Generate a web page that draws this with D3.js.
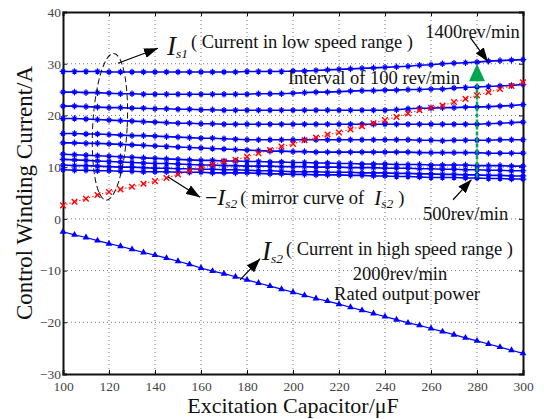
<!DOCTYPE html>
<html>
<head>
<meta charset="utf-8">
<script src="https://cdn.jsdelivr.net/npm/d3@7"></script>
<style>
  body { margin: 0; background: #fff; }
  text { font-family: "Liberation Serif", "Times New Roman", serif; }
</style>
</head>
<body>
<svg width="544" height="419"></svg>
<script>
// Excitation capacitor (uF)
var capacitor = [100, 105, 110, 115, 120, 125, 130, 135, 140, 145,
                 150, 155, 160, 165, 170, 175, 180, 185, 190, 195,
                 200, 205, 210, 215, 220, 225, 230, 235, 240, 245,
                 250, 255, 260, 265, 270, 275, 280, 285, 290, 295, 300];

// Is1, low speed range, one curve per speed (rev/min)
var speeds = [1400, 1300, 1200, 1100, 1000, 900, 800, 700, 600, 500];
var is1_1400 = [28.5, 28.5, 28.5, 28.5, 28.4, 28.4, 28.4, 28.4, 28.4, 28.4,
                28.4, 28.4, 28.4, 28.4, 28.4, 28.4, 28.5, 28.5, 28.5, 28.5,
                28.6, 28.6, 28.7, 28.8, 28.9, 29.0, 29.1, 29.2, 29.3, 29.4,
                29.5, 29.7, 29.8, 30.0, 30.1, 30.2, 30.3, 30.5, 30.6, 30.7, 30.8];
var is1_1300 = [24.5, 24.5, 24.4, 24.4, 24.3, 24.2, 24.2, 24.1, 24.1, 24.1,
                24.1, 24.1, 24.1, 24.1, 24.1, 24.1, 24.1, 24.2, 24.2, 24.2,
                24.3, 24.4, 24.5, 24.5, 24.6, 24.7, 24.8, 24.8, 24.9, 24.9,
                25.0, 25.0, 25.1, 25.1, 25.3, 25.4, 25.5, 25.6, 25.7, 25.8, 26.0];
var is1_1200 = [21.8, 21.8, 21.7, 21.6, 21.5, 21.5, 21.4, 21.4, 21.3, 21.3,
                21.2, 21.2, 21.1, 21.1, 21.0, 21.0, 21.0, 21.0, 21.0, 21.0,
                21.0, 21.0, 21.0, 21.0, 21.0, 21.0, 21.0, 21.0, 21.0, 21.1,
                21.3, 21.4, 21.4, 21.5, 21.5, 21.6, 21.6, 21.7, 21.8, 21.9, 22.1];
var is1_1100 = [19.4, 19.4, 19.3, 19.2, 19.1, 19.0, 18.9, 18.8, 18.7, 18.6,
                18.5, 18.5, 18.4, 18.4, 18.3, 18.3, 18.3, 18.3, 18.3, 18.3,
                18.3, 18.3, 18.3, 18.3, 18.3, 18.3, 18.3, 18.3, 18.3, 18.3,
                18.3, 18.3, 18.3, 18.3, 18.3, 18.3, 18.3, 18.4, 18.5, 18.6, 18.7];
var is1_1000 = [16.5, 16.5, 16.4, 16.4, 16.3, 16.2, 16.1, 16.1, 16.0, 15.9,
                15.8, 15.7, 15.6, 15.6, 15.5, 15.4, 15.3, 15.3, 15.3, 15.3,
                15.3, 15.3, 15.3, 15.3, 15.3, 15.3, 15.3, 15.3, 15.3, 15.3,
                15.3, 15.2, 15.2, 15.1, 15.2, 15.2, 15.2, 15.2, 15.3, 15.3, 15.3];
var is1_900 = [14.7, 14.7, 14.6, 14.6, 14.5, 14.4, 14.3, 14.2, 14.1, 14.0,
               13.9, 13.8, 13.7, 13.6, 13.5, 13.4, 13.3, 13.2, 13.1, 13.1,
               13.0, 13.0, 12.9, 12.9, 12.9, 12.9, 12.9, 12.9, 12.9, 12.9,
               12.9, 12.8, 12.8, 12.8, 12.8, 12.8, 12.8, 12.7, 12.7, 12.7, 12.7];
var is1_800 = [12.5, 12.4, 12.3, 12.2, 12.1, 12.0, 11.9, 11.8, 11.7, 11.6,
               11.5, 11.4, 11.3, 11.3, 11.2, 11.2, 11.1, 11.1, 11.0, 11.0,
               10.9, 10.9, 10.8, 10.8, 10.7, 10.7, 10.6, 10.6, 10.6, 10.5,
               10.5, 10.5, 10.4, 10.4, 10.4, 10.4, 10.3, 10.3, 10.3, 10.2, 10.2];
var is1_700 = [11.5, 11.4, 11.3, 11.2, 11.1, 11.0, 10.9, 10.8, 10.7, 10.7,
               10.6, 10.5, 10.4, 10.4, 10.3, 10.3, 10.2, 10.2, 10.2, 10.1,
               10.1, 10.1, 10.0, 10.0, 10.0, 9.9, 9.9, 9.9, 9.8, 9.8,
               9.8, 9.7, 9.7, 9.6, 9.6, 9.5, 9.5, 9.4, 9.4, 9.3, 9.3];
var is1_600 = [10.4, 10.3, 10.3, 10.2, 10.1, 10.0, 10.0, 9.9, 9.8, 9.8,
               9.7, 9.7, 9.6, 9.6, 9.5, 9.5, 9.4, 9.3, 9.3, 9.2,
               9.1, 9.1, 9.1, 9.0, 9.0, 9.0, 8.9, 8.9, 8.9, 8.8,
               8.8, 8.7, 8.7, 8.6, 8.6, 8.5, 8.5, 8.4, 8.4, 8.3, 8.3];
var is1_500 = [9.5, 9.4, 9.4, 9.3, 9.3, 9.2, 9.2, 9.1, 9.1, 9.1,
               9.0, 9.0, 9.0, 8.9, 8.9, 8.9, 8.9, 8.8, 8.7, 8.7,
               8.6, 8.6, 8.5, 8.5, 8.5, 8.4, 8.4, 8.3, 8.3, 8.2,
               8.2, 8.1, 8.0, 8.0, 8.0, 7.9, 7.9, 7.8, 7.8, 7.7, 7.7];
var lowSpeed = [is1_1400, is1_1300, is1_1200, is1_1100, is1_1000,
                is1_900, is1_800, is1_700, is1_600, is1_500];

// -Is2, mirror curve (red x)
var mirrorIs2 = [2.6, 3.3, 3.9, 4.6, 5.2, 5.7, 6.2, 6.8, 7.3, 7.9,
                 8.6, 9.3, 9.8, 10.5, 11.1, 11.4, 12.0, 12.7, 13.3, 14.0,
                 14.5, 15.2, 15.7, 16.3, 16.7, 17.3, 17.9, 18.5, 19.1, 19.7,
                 20.4, 21.0, 21.5, 21.9, 22.6, 23.2, 23.9, 24.5, 25.1, 25.7, 26.4];

// Is2, high speed range, 2000 rev/min rated power
var is2 = [-2.5, -3.1, -3.6, -4.2, -4.8, -5.3, -5.9, -6.5, -7.0, -7.6,
           -8.2, -8.8, -9.5, -10.1, -10.6, -11.2, -11.8, -12.4, -13.0, -13.6,
           -14.2, -14.8, -15.4, -15.9, -16.5, -17.1, -17.7, -18.3, -18.9, -19.5,
           -20.1, -20.6, -21.2, -21.8, -22.4, -23.0, -23.6, -24.2, -24.8, -25.4, -26.0];

var xTicks = [100, 120, 140, 160, 180, 200, 220, 240, 260, 280, 300];
var yTicks = [-30, -20, -10, 0, 10, 20, 30, 40];

var svg = d3.select("svg"),
    margin = {top: 12, right: 21, bottom: 45, left: 63},
    width = +svg.attr("width") - margin.left - margin.right,
    height = +svg.attr("height") - margin.top - margin.bottom;

var x = d3.scaleLinear().domain([100, 300]).range([0, width]);
var y = d3.scaleLinear().domain([-30, 40]).range([height, 0]);

var g = svg.append("g").attr("transform", "translate(" + margin.left + "," + margin.top + ")");

// arrow head
var defs = svg.append("defs");
defs.append("marker")
    .attr("id", "head")
    .attr("markerUnits", "userSpaceOnUse")
    .attr("viewBox", "0 0 14 10")
    .attr("refX", 14).attr("refY", 5)
    .attr("markerWidth", 14).attr("markerHeight", 10)
    .attr("orient", "auto")
  .append("path")
    .attr("d", "M0,0L14,5L0,10Z")
    .attr("fill", "#000");

// grid
g.append("g").selectAll("line").data(xTicks.slice(1, -1)).enter().append("line")
    .attr("x1", function(d) { return x(d); }).attr("x2", function(d) { return x(d); })
    .attr("y1", 0).attr("y2", height)
    .attr("stroke", "#555").attr("stroke-width", 0.8).attr("stroke-dasharray", "1,3");
g.append("g").selectAll("line").data(yTicks.slice(1, -1)).enter().append("line")
    .attr("y1", function(d) { return y(d); }).attr("y2", function(d) { return y(d); })
    .attr("x1", 0).attr("x2", width)
    .attr("stroke", "#555").attr("stroke-width", 0.8).attr("stroke-dasharray", "1,3");

// axes
var fmt = function(d) { return d < 0 ? "\u2212" + Math.abs(d) : d; };
var xAxis = g.append("g").attr("transform", "translate(0," + height + ")")
    .call(d3.axisBottom(x).tickValues(xTicks).tickSize(-4).tickPadding(7).tickFormat(fmt));
var xAxisTop = g.append("g")
    .call(d3.axisTop(x).tickValues(xTicks).tickSize(-4).tickFormat(""));
var yAxis = g.append("g")
    .call(d3.axisLeft(y).tickValues(yTicks).tickSize(-4).tickPadding(2).tickFormat(fmt));
var yAxisR = g.append("g").attr("transform", "translate(" + width + ",0)")
    .call(d3.axisRight(y).tickValues(yTicks).tickSize(-4).tickFormat(""));
[xAxis, xAxisTop, yAxis, yAxisR].forEach(function(a) {
  a.select(".domain").attr("stroke", "#111").attr("stroke-width", 2);
  a.selectAll(".tick line").attr("stroke", "#111");
  a.selectAll("text").style("font-family", "Liberation Serif").style("font-size", "13.5px").attr("fill", "#444");
});

// clip
defs.append("clipPath").attr("id", "plot").append("rect")
    .attr("x", -6).attr("y", -6).attr("width", width + 12).attr("height", height + 12);
var plot = g.append("g").attr("clip-path", "url(#plot)");

var line = d3.line()
    .x(function(d, i) { return x(capacitor[i]); })
    .y(function(d) { return y(d); });

// low speed curves
lowSpeed.forEach(function(series) {
  plot.append("path").datum(series)
      .attr("d", line)
      .attr("fill", "none").attr("stroke", "#0000ff").attr("stroke-width", 1.6);
  plot.append("g").selectAll("path").data(series).enter().append("path")
      .attr("transform", function(d, i) { return "translate(" + x(capacitor[i]) + "," + y(d) + ")"; })
      .attr("d", "M-3.3,0H3.3M0,-3.3V3.3M-2,-2L2,2M-2,2L2,-2")
      .attr("stroke", "#0000ff").attr("stroke-width", 1.2).attr("fill", "none");
});

// high speed Is2
plot.append("path").datum(is2)
    .attr("d", line)
    .attr("fill", "none").attr("stroke", "#0000ff").attr("stroke-width", 1.2);
plot.append("g").selectAll("path").data(is2).enter().append("path")
    .attr("transform", function(d, i) { return "translate(" + x(capacitor[i]) + "," + y(d) + ")"; })
    .attr("d", d3.symbol().type(d3.symbolTriangle).size(20))
    .attr("fill", "#0000ff");

// mirror curve -Is2
plot.append("path").datum(mirrorIs2)
    .attr("d", line)
    .attr("fill", "none").attr("stroke", "#ff0000").attr("stroke-width", 1.1).attr("stroke-dasharray", "1.2,2.2");
plot.append("g").selectAll("path").data(mirrorIs2).enter().append("path")
    .attr("transform", function(d, i) { return "translate(" + x(capacitor[i]) + "," + y(d) + ")"; })
    .attr("d", "M-2.8,-2.8L2.8,2.8M-2.8,2.8L2.8,-2.8")
    .attr("stroke", "#ff0000").attr("stroke-width", 1.4);

// annotations (data coordinates)
function arrow(x1, y1, x2, y2) {
  g.append("line")
      .attr("x1", x(x1)).attr("y1", y(y1)).attr("x2", x(x2)).attr("y2", y(y2))
      .attr("stroke", "#000").attr("stroke-width", 1.2)
      .attr("marker-end", "url(#head)");
}
function note(xv, yv, txt, anchor) {
  return g.append("text").attr("x", x(xv)).attr("y", y(yv))
      .attr("text-anchor", anchor || "start")
      .style("font-size", "18.5px").attr("fill", "#111").text(txt);
}
// I with subscript, then the rest shifted by lift px
function labelI(xv, yv, sub, rest, lift, size) {
  var t = g.append("text").attr("x", x(xv)).attr("y", y(yv)).attr("fill", "#111");
  t.append("tspan").style("font-size", size + "px").style("font-style", "italic").text("I");
  t.append("tspan").style("font-size", "13.5px").style("font-style", "italic").attr("dy", 3.5).text("s" + sub);
  t.append("tspan").style("font-size", "18.5px").attr("dx", 3).attr("dy", -3.5 - lift).text(rest);
  return t;
}

g.append("ellipse")
    .attr("cx", x(120.4)).attr("cy", y(17.8))
    .attr("rx", x(127.5) - x(120)).attr("ry", y(0) - y(14.2))
    .attr("transform", "rotate(3," + x(120.4) + "," + y(17.8) + ")")
    .attr("fill", "none").attr("stroke", "#111").attr("stroke-width", 1)
    .attr("stroke-dasharray", "6,3");
arrow(123.9, 30.1, 141.3, 33.0);
labelI(145.2, 31.7, "1", "( Current in low speed range )", 6.7, 27);

note(257.5, 34.9, "1400rev/min");
arrow(277.0, 35.1, 284.8, 30.4);
note(197.8, 26.1, "Interval of 100 rev/min");

// green interval arrow
g.append("line")
    .attr("x1", x(280)).attr("x2", x(280)).attr("y1", y(8.0)).attr("y2", y(26.6))
    .attr("stroke", "#00a650").attr("stroke-width", 2.5).attr("stroke-dasharray", "4,2");
g.append("path")
    .attr("d", "M" + (x(280) - 8) + "," + y(26.6) + "L" + x(280) + "," + y(30.0) + "L" + (x(280) + 8) + "," + y(26.6) + "Z")
    .attr("fill", "#00a650");

note(256.5, -0.2, "500rev/min");
arrow(269.6, 3.7, 277.6, 7.6);

// -Is2 ( mirror curve of Is2 )
var m = g.append("text").attr("x", x(161.7)).attr("y", y(2.7)).attr("fill", "#111");
m.append("tspan").style("font-size", "22px").text("\u2212");
m.append("tspan").style("font-size", "24px").style("font-style", "italic").text("I");
m.append("tspan").style("font-size", "13.5px").style("font-style", "italic").attr("dy", 3.5).text("s2");
m.append("tspan").style("font-size", "18.5px").attr("dx", 3).attr("dy", -4.5).text("( mirror curve of");
m.append("tspan").style("font-size", "21px").style("font-style", "italic").attr("dx", 10).attr("dy", 1).text("I");
m.append("tspan").style("font-size", "13.5px").style("font-style", "italic").attr("dy", 3.5).text("s2");
m.append("tspan").style("font-size", "18.5px").attr("dx", 5).attr("dy", -4.5).text(")");
arrow(145.7, 8.1, 159.6, 4.2);

labelI(186.5, -7.9, "2", "( Current in high speed range )", 5, 27);
arrow(177.0, -11.8, 185.7, -7.7);
note(246.5, -11.8, "2000rev/min", "middle");
note(249.6, -15.6, "Rated output power", "middle");

// axis titles
svg.append("text")
    .attr("transform", "translate(32," + (margin.top + height / 2) + ") rotate(-90)")
    .attr("text-anchor", "middle").style("font-size", "23px").attr("fill", "#111")
    .text("Control Winding Current/A");
svg.append("text")
    .attr("x", margin.left + width / 2).attr("y", 413)
    .attr("text-anchor", "middle").style("font-size", "22px").attr("fill", "#111")
    .text("Excitation Capacitor/\u03bcF");
</script>
</body>
</html>
